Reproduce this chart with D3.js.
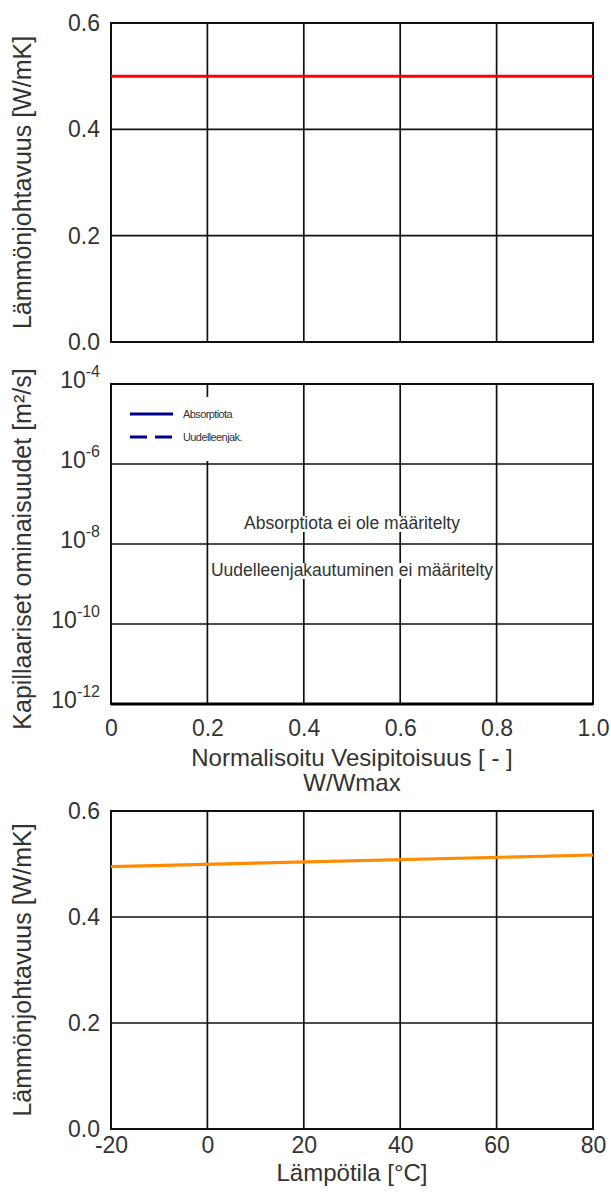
<!DOCTYPE html>
<html>
<head>
<meta charset="utf-8">
<script src="https://cdn.jsdelivr.net/npm/d3@7"></script>
<style>
  html, body { margin: 0; padding: 0; background: #fff; }
  svg { display: block; }
  text { font-family: "Liberation Sans", Arial, sans-serif; fill: #333; }
</style>
</head>
<body>
<svg id="chart" width="611" height="1195"></svg>
<script>
// Thermal conductivity vs. normalised moisture content
const moistureX = [0, 1];
const lambdaMoist = [0.5, 0.5];

// Capillary transport (not defined for this material)
const legendNames = ["Absorptiota", "Uudelleenjak."];
const capNotes = ["Absorptiota ei ole määritelty", "Uudelleenjakautuminen ei määritelty"];

// Thermal conductivity vs. temperature
const tempC = [-20, 80];
const lambdaTemp = [0.495, 0.517];

// Tick values
const moistTicks = [0, 0.2, 0.4, 0.6, 0.8, 1.0];
const moistTickLabels = ["0", "0.2", "0.4", "0.6", "0.8", "1.0"];
const lambdaTicks = [0, 0.2, 0.4, 0.6];
const capTicks = [1e-12, 1e-10, 1e-8, 1e-6, 1e-4];
const capExponents = ["-12", "-10", "-8", "-6", "-4"];
const tempTicks = [-20, 0, 20, 40, 60, 80];

const svg = d3.select("#chart");
const left = 111, right = 593;
const panels = {
  top: { y0: 23, y1: 342 },
  mid: { y0: 384, y1: 704 },
  bot: { y0: 811, y1: 1129 }
};
const tickFont = 23, titleFont = 24, yTitleFont = 25;

const xMoist = d3.scaleLinear().domain([0, 1]).range([left, right]);
const xTemp = d3.scaleLinear().domain([-20, 80]).range([left, right]);
const yTop = d3.scaleLinear().domain([0, 0.6]).range([panels.top.y1, panels.top.y0]);
const yMid = d3.scaleLog().domain([1e-12, 1e-4]).range([panels.mid.y1, panels.mid.y0]);
const yBot = d3.scaleLinear().domain([0, 0.6]).range([panels.bot.y1, panels.bot.y0]);

function grid(g, x, y, xt, yt) {
  const [y1, y0] = y.range();
  g.selectAll(".vg").data(xt.slice(1, -1)).join("line")
    .attr("x1", d => x(d)).attr("x2", d => x(d))
    .attr("y1", y0).attr("y2", y1)
    .attr("stroke", "#111").attr("stroke-width", 1.7);
  g.selectAll(".hg").data(yt.slice(1, -1)).join("line")
    .attr("x1", left).attr("x2", right)
    .attr("y1", d => y(d)).attr("y2", d => y(d))
    .attr("stroke", "#111").attr("stroke-width", 1.7);
}

function frame(g, y) {
  const [y1, y0] = y.range();
  g.append("rect").attr("x", left).attr("y", y0)
    .attr("width", right - left).attr("height", y1 - y0)
    .attr("fill", "none").attr("stroke", "#111").attr("stroke-width", 2);
}

function yAxisLinear(g, y, ticks) {
  const ax = d3.axisLeft(y).tickValues(ticks).tickSize(0).tickPadding(11)
    .tickFormat(d3.format(".1f"));
  g.append("g").attr("transform", `translate(${left},0)`).call(ax)
    .call(s => s.select(".domain").remove())
    .call(s => s.selectAll("text").attr("font-size", tickFont)
      .attr("font-family", "Liberation Sans, Arial, sans-serif").attr("fill", "#333"));
}

function xAxis(g, x, y, ticks, labels, pad) {
  const ax = d3.axisBottom(x).tickValues(ticks).tickSize(0).tickPadding(pad)
    .tickFormat((d, i) => labels[i]);
  g.append("g").attr("transform", `translate(0,${y.range()[0]})`).call(ax)
    .call(s => s.select(".domain").remove())
    .call(s => s.selectAll("text").attr("font-size", tickFont)
      .attr("font-family", "Liberation Sans, Arial, sans-serif").attr("fill", "#333"));
}

function yTitle(text, cy) {
  svg.append("text")
    .attr("transform", `translate(31,${cy}) rotate(-90)`)
    .attr("text-anchor", "middle")
    .attr("font-size", yTitleFont)
    .text(text);
}

/* ---------- Panel 1: conductivity vs moisture ---------- */
const g1 = svg.append("g");
grid(g1, xMoist, yTop, moistTicks, lambdaTicks);
frame(g1, yTop);
yAxisLinear(g1, yTop, lambdaTicks);
g1.append("path")
  .datum(moistureX.map((x, i) => [x, lambdaMoist[i]]))
  .attr("d", d3.line().x(d => xMoist(d[0])).y(d => yTop(d[1])))
  .attr("fill", "none").attr("stroke", "#ff0000").attr("stroke-width", 3);
yTitle("Lämmönjohtavuus [W/mK]", (panels.top.y0 + panels.top.y1) / 2);

/* ---------- Panel 2: capillary properties ---------- */
const g2 = svg.append("g");
grid(g2, xMoist, yMid, moistTicks, capTicks);
frame(g2, yMid);
// lower bound of the log axis drawn heavier
g2.append("line").attr("x1", left).attr("x2", right)
  .attr("y1", yMid(1e-12)).attr("y2", yMid(1e-12))
  .attr("stroke", "#000").attr("stroke-width", 3.2);

const capAxis = g2.append("g").attr("transform", `translate(${left},0)`)
  .call(d3.axisLeft(yMid).tickValues(capTicks).tickSize(0).tickFormat(""));
capAxis.select(".domain").remove();
capAxis.selectAll(".tick").each(function (d, i) {
  const t = d3.select(this).select("text");
  t.attr("x", -11).attr("dy", "0.32em").attr("text-anchor", "end")
    .attr("font-family", "Liberation Sans, Arial, sans-serif").attr("fill", "#333");
  t.append("tspan").attr("font-size", tickFont).text("10");
  t.append("tspan").attr("font-size", 16).attr("dy", "-0.65em").text(capExponents[i]);
});

// legend
const lg = g2.append("g");
lg.append("rect").attr("x", left + 2).attr("y", 397).attr("width", 160).attr("height", 64).attr("fill", "#fff");
const legendDash = [null, "17,8"];
legendNames.forEach((name, i) => {
  const ly = 414 + i * 23;
  lg.append("line").attr("x1", 130).attr("x2", 173).attr("y1", ly).attr("y2", ly)
    .attr("stroke", "#00008b").attr("stroke-width", 3)
    .attr("stroke-dasharray", legendDash[i]);
  lg.append("text").attr("x", 183).attr("y", ly + 4).attr("font-size", 11)
    .attr("letter-spacing", -0.6).attr("fill", "#555").text(name);
});

// notes in the middle of the panel
const cx = (left + right) / 2;
[529, 576].forEach((ny, i) => {
  const t = g2.append("text").attr("x", cx).attr("y", ny).attr("text-anchor", "middle")
    .attr("font-size", 17.5).attr("fill", "#222").text(capNotes[i]);
  const bb = t.node().getBBox();
  g2.insert("rect", () => t.node())
    .attr("x", bb.x).attr("y", bb.y + 3).attr("width", bb.width).attr("height", bb.height - 4)
    .attr("fill", "#fff");
});

xAxis(g2, xMoist, yMid, moistTicks, moistTickLabels, 16);
svg.append("text").attr("x", cx).attr("y", 766).attr("text-anchor", "middle")
  .attr("font-size", titleFont).text("Normalisoitu Vesipitoisuus [ - ]");
svg.append("text").attr("x", cx).attr("y", 791).attr("text-anchor", "middle")
  .attr("font-size", titleFont).text("W/Wmax");
yTitle("Kapillaariset ominaisuudet [m²/s]", 549);

/* ---------- Panel 3: conductivity vs temperature ---------- */
const g3 = svg.append("g");
grid(g3, xTemp, yBot, tempTicks, lambdaTicks);
frame(g3, yBot);
yAxisLinear(g3, yBot, lambdaTicks);
g3.append("path")
  .datum(tempC.map((t, i) => [t, lambdaTemp[i]]))
  .attr("d", d3.line().x(d => xTemp(d[0])).y(d => yBot(d[1])))
  .attr("fill", "none").attr("stroke", "#ff8c00").attr("stroke-width", 3.2);
xAxis(g3, xTemp, yBot, tempTicks, tempTicks.map(String), 8);
svg.append("text").attr("x", cx).attr("y", 1181).attr("text-anchor", "middle")
  .attr("font-size", titleFont).text("Lämpötila [°C]");
yTitle("Lämmönjohtavuus [W/mK]", (panels.bot.y0 + panels.bot.y1) / 2);
</script>
</body>
</html>
